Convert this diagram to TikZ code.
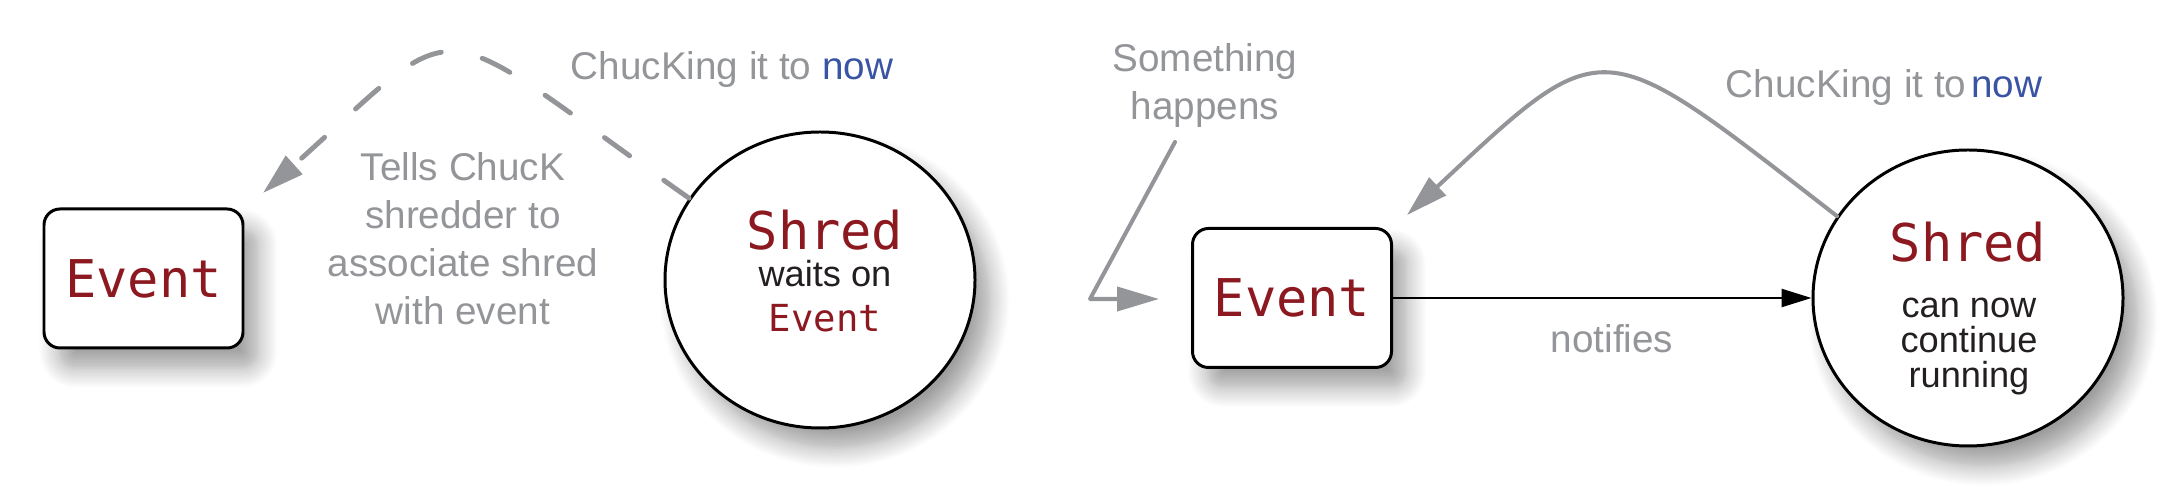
\documentclass[tikz,border=0pt]{standalone}
\usepackage{fontspec}
\setmainfont{Liberation Sans}
\newfontfamily\monof{DejaVu Sans Mono}
\usetikzlibrary{arrows.meta,shapes.geometric,shadows.blur}
\definecolor{evred}{RGB}{140,25,32}
\definecolor{lgray}{RGB}{147,149,152}
\definecolor{nowblue}{RGB}{58,84,164}
\definecolor{txtblack}{RGB}{35,31,32}
\tikzset{
  shadowed/.style={blur shadow={shadow xshift=1.5mm, shadow yshift=-2mm, shadow blur radius=2mm, shadow blur steps=12, shadow opacity=38}},
  eventbox/.style={draw=black, line width=0.85pt, fill=white, rounded corners=1.6mm,
    minimum width=19.9mm, minimum height=13.9mm, inner sep=0pt, shadowed,
    text=evred, font=\monof\fontsize{14.8}{16}\selectfont},
  shredell/.style={ellipse, draw=black, line width=0.85pt, fill=white,
    minimum width=31mm, minimum height=29.6mm, inner sep=0pt, shadowed},
  graytxt/.style={text=lgray, font=\fontsize{11}{13.66}\selectfont, align=center, inner sep=0pt},
  monobig/.style={text=evred, font=\monof\fontsize{14.8}{16}\selectfont, inner sep=0pt},
  monosmall/.style={text=evred, font=\monof\fontsize{10.6}{12}\selectfont, inner sep=0pt},
  blacktxt/.style={text=txtblack, font=\fontsize{10.3}{12}\selectfont, inner sep=0pt},
  grayarrow/.style={draw=lgray, line width=1.15pt, line cap=round, line join=round,
    -{Triangle[length=4.2mm,width=2.4mm]}},
  graydash/.style={grayarrow, line width=1.4pt, dash pattern=on 3.1mm off 4.2mm},
  blackarrow/.style={draw=black, line width=0.7pt, -{Triangle[length=3mm,width=1.8mm]}}
}
\begin{document}
\begin{tikzpicture}[x=0.1mm,y=-0.1mm]
\useasboundingbox (0,0) rectangle (2180,494);
% left part
\node[eventbox] (levent) at (143.5,278.5) {Event};
\node[shredell] (lshred) at (820,280) {};
\node[monobig, anchor=base] (lshredname) at (825,250) {Shred};
\node[blacktxt, anchor=base] (lwaits) at (825,287) {waits on};
\node[monosmall, anchor=base] (lwaitev) at (825,332) {Event};
\node[graytxt, anchor=base] (lchuck) at (732,80) {ChucKing it to \textcolor{nowblue}{now}};
\node[graytxt, anchor=base] (tells) at (463,325) {Tells ChucK\\shredder to\\associate shred\\with event};
\coordinate (ltip) at (263,193);
\draw[graydash] (lshred.148) .. controls (423,11) and (471,6) .. (ltip);
% right part
\node[eventbox] (revent) at (1292,298) {Event};
\node[shredell] (rshred) at (1968,298) {};
\node[monobig, anchor=base] (rshredname) at (1968,262) {Shred};
\node[blacktxt, anchor=base] (rcan) at (1969,318) {can now};
\node[blacktxt, anchor=base] (rcont) at (1969,353) {continue};
\node[blacktxt, anchor=base] (rrun) at (1969,388) {running};
\node[graytxt, anchor=base] (something) at (1205,120) {Something\\happens};
\node[graytxt, anchor=base] (notifies) at (1612,353) {notifies};
\node[graytxt, anchor=base] (rchuck) at (1884,98) {ChucKing it to\hspace{-0.6mm} \textcolor{nowblue}{now}};
\coordinate (sstart) at (1175,142);
\coordinate (sbend) at (1090,299);
\coordinate (stip) at (1159,299);
\draw[grayarrow] (sstart) -- (sbend) -- (stip);
\draw[blackarrow] (revent.east) -- (rshred.west);
\coordinate (rtip) at (1407,215);
\draw[grayarrow] (rshred.148) .. controls (1598,31) and (1607,28) .. (rtip);
\end{tikzpicture}
\end{document}
